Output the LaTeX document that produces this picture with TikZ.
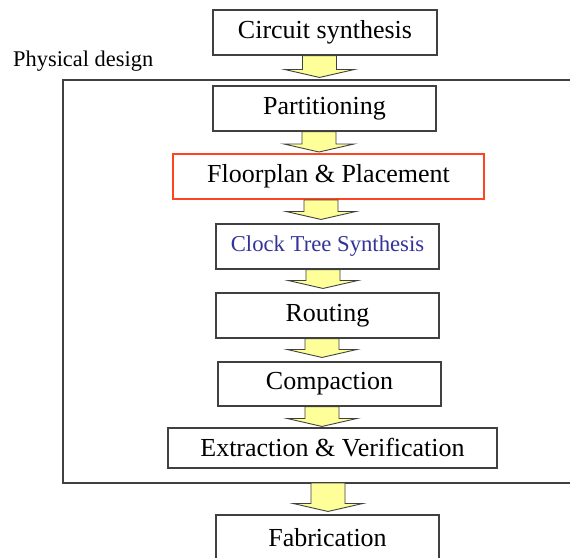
\documentclass[tikz,border=0pt]{standalone}
\usepackage{fontspec}
\setmainfont{Liberation Serif}
\usetikzlibrary{calc}
\definecolor{boxline}{HTML}{404040}
\definecolor{hotred}{HTML}{FF4422}
\definecolor{ctsblue}{HTML}{333399}
\definecolor{arrowfill}{HTML}{FFFF99}
\newcommand\stagearrow[4]{%
  \draw[flowarrow] let \p1=(#1.south), \p2=(#2.north) in
    (#3pt-17pt,\y1) -- (#3pt-17pt,\y2+#4pt+8pt) -- (#3pt-35pt,\y2+#4pt+8pt)
    -- (#3pt,\y2+#4pt) -- (#3pt+35pt,\y2+#4pt+8pt) -- (#3pt+17pt,\y2+#4pt+8pt)
    -- (#3pt+17pt,\y1) -- cycle;}
\begin{document}
\begin{tikzpicture}[x=1pt,y=-1pt,
  stage/.style={draw=boxline,line width=1.1pt,inner sep=0pt,fill=white,
    font=\fontsize{26}{30}\selectfont},
  hot/.style={stage,draw=hotred,line width=2pt},
  flowarrow/.style={fill=arrowfill,draw=boxline,line width=0.9pt,line join=miter},
  frame/.style={draw=boxline,line width=1.1pt},
  caption/.style={inner sep=0pt,anchor=base west,font=\fontsize{22.4}{26}\selectfont}]
\useasboundingbox (0,0) rectangle (570,557);
\clip (0,0) rectangle (570,557);
\fill[white] (0,0) rectangle (570,557);
% physical design frame
\draw[frame] (63,80) rectangle (580,483);
\node[caption] (pd) at (13,66) {Physical design};
\coordinate (fb) at (328,483);
% stages
\node[stage,minimum width=224pt,minimum height=45pt] (circ) at (325,32.5) {Circuit synthesis};
\node[stage,minimum width=223pt,minimum height=45pt] (part) at (324.5,108.5) {Partitioning};
\node[hot,minimum width=311pt,minimum height=45pt] (floor) at (328.5,176.5) {Floorplan \& Placement};
\node[stage,minimum width=223pt,minimum height=45pt,text=ctsblue,
  font=\fontsize{22.7}{26}\selectfont] (cts) at (327.5,246.5) {Clock Tree Synthesis};
\node[stage,minimum width=223pt,minimum height=45pt] (rout) at (327.5,315.5) {Routing};
\node[stage,minimum width=223pt,minimum height=44pt] (comp) at (329.5,384) {Compaction};
\node[stage,minimum width=329pt,minimum height=40pt] (extr) at (332.5,448) {Extraction \& Verification};
\node[stage,minimum width=223pt,minimum height=46pt] (fab) at (327.5,538) {Fabrication};
% arrows
\stagearrow{circ}{part}{319.5}{8}
\stagearrow{part}{floor}{319}{1}
\stagearrow{floor}{cts}{321}{4}
\stagearrow{cts}{rout}{323}{4}
\stagearrow{rout}{comp}{322}{4}
\stagearrow{comp}{extr}{322}{1}
\stagearrow{fb}{fab}{328}{3}
\end{tikzpicture}
\end{document}
